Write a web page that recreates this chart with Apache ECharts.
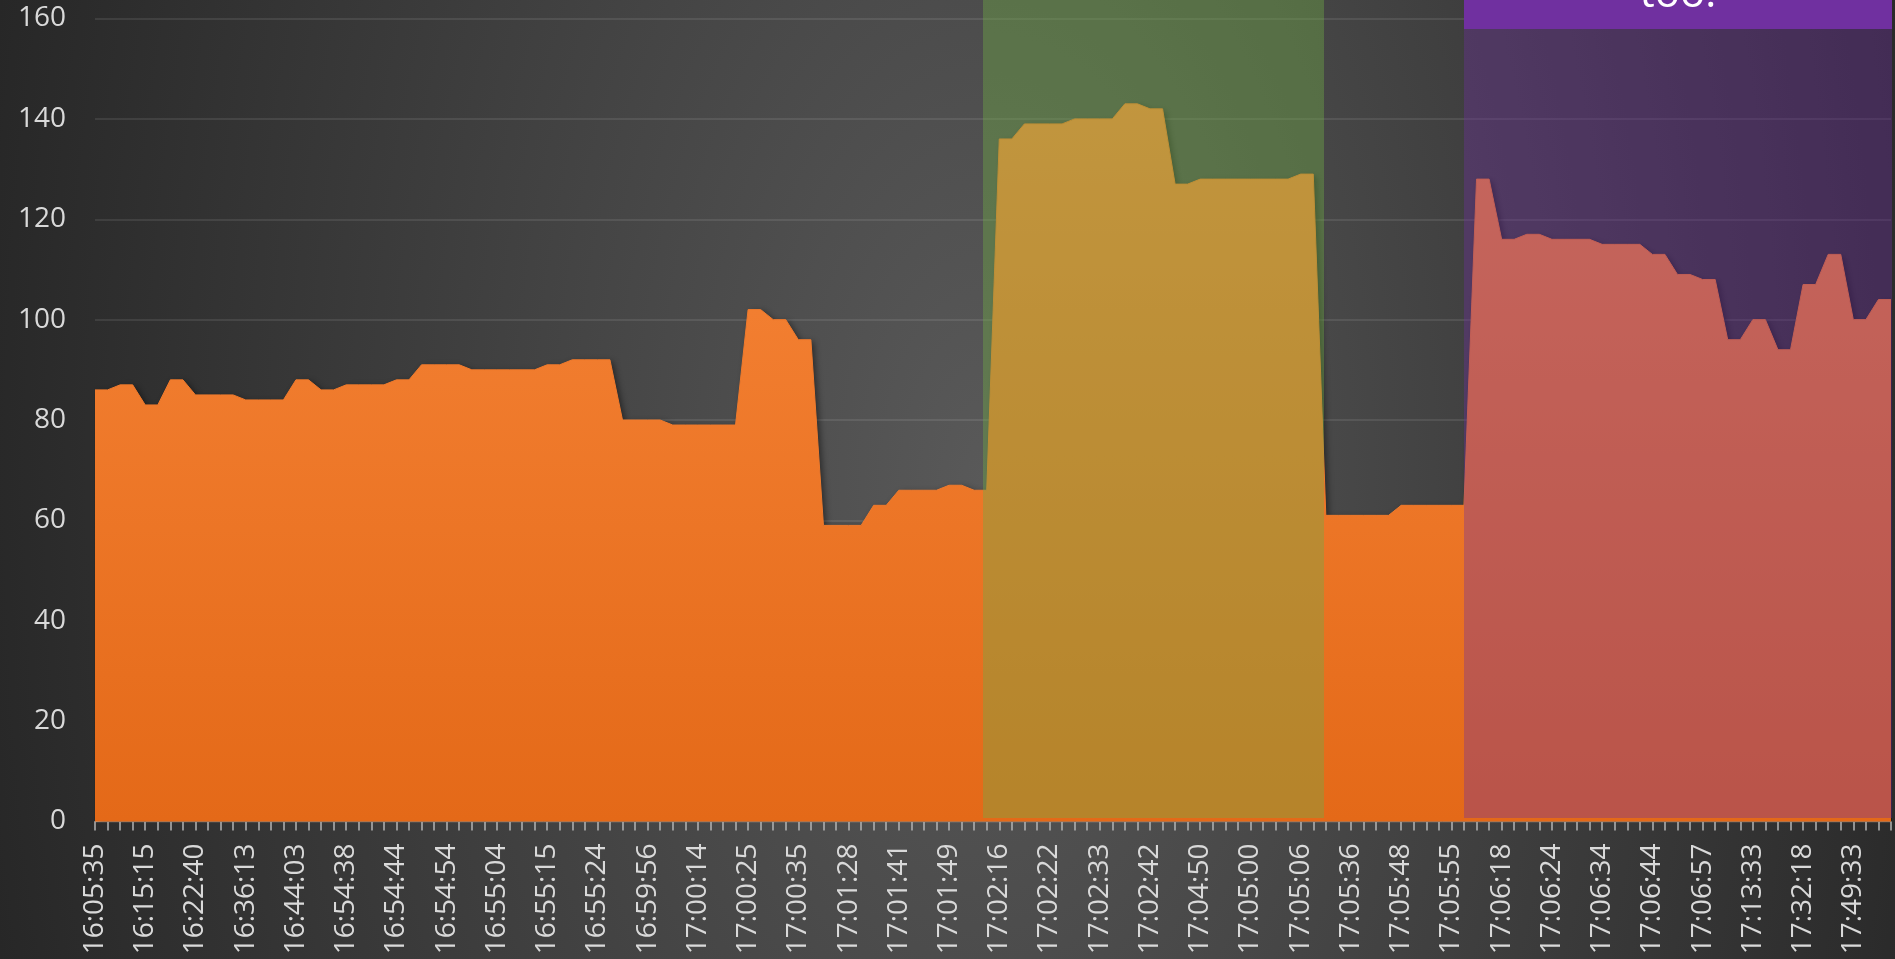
<!DOCTYPE html>
<html>
<head>
<meta charset="utf-8">
<script src="https://cdn.jsdelivr.net/npm/echarts@6/dist/echarts.min.js"></script>
<style>
  html, body { margin: 0; padding: 0; }
  body {
    width: 1895px; height: 959px; overflow: hidden;
    background: radial-gradient(ellipse 1040px 1900px at 985px 480px, #595959 0%, #262626 100%);
  }
  #chart { width: 1895px; height: 959px; }
</style>
</head>
<body>
<div id="chart"></div>
<script>
// tick labels, one every 4th sample
const timeLabels = [
  '16:05:35', '16:15:15', '16:22:40', '16:36:13', '16:44:03', '16:54:38',
  '16:54:44', '16:54:54', '16:55:04', '16:55:15', '16:55:24', '16:59:56',
  '17:00:14', '17:00:25', '17:00:35', '17:01:28', '17:01:41', '17:01:49',
  '17:02:16', '17:02:22', '17:02:33', '17:02:42', '17:04:50', '17:05:00',
  '17:05:06', '17:05:36', '17:05:48', '17:05:55', '17:06:18', '17:06:24',
  '17:06:34', '17:06:44', '17:06:57', '17:13:33', '17:32:18', '17:49:33'
]

// sampled values (144 points)
const values = [
  86, 86, 87, 87, 83, 83, 88, 88, 85, 85, 85, 85, 84, 84, 84, 84, 88, 88, 86, 86,
  87, 87, 87, 87, 88, 88, 91, 91, 91, 91, 90, 90, 90, 90, 90, 90, 91, 91, 92, 92,
  92, 92, 80, 80, 80, 80, 79, 79, 79, 79, 79, 79, 102, 102, 100, 100, 96, 96, 59, 59,
  59, 59, 63, 63, 66, 66, 66, 66, 67, 67, 66, 66, 136, 136, 139, 139, 139, 139, 140, 140,
  140, 140, 143, 143, 142, 142, 127, 127, 128, 128, 128, 128, 128, 128, 128, 128, 129, 129, 61, 61,
  61, 61, 61, 61, 63, 63, 63, 63, 63, 63, 128, 128, 116, 116, 117, 117, 116, 116, 116, 116,
  115, 115, 115, 115, 113, 113, 109, 109, 108, 108, 96, 96, 100, 100, 94, 94, 107, 107, 113, 113,
  100, 100, 104, 104
]

const yTicks = [0, 20, 40, 60, 80, 100, 120, 140, 160]

const categories = values.map((v, i) => (i % 4 === 0 ? timeLabels[i / 4] : ''))

const chart = echarts.init(document.getElementById('chart'), null, { renderer: 'canvas' })

chart.setOption({
  backgroundColor: 'transparent',
  animation: false,
  grid: { left: 95, right: 4, top: 18.5, bottom: 137.5, outerBoundsMode: 'none', containLabel: false },
  xAxis: {
    type: 'category',
    data: categories,
    boundaryGap: false,
    axisLine: { show: true, lineStyle: { color: '#c9b6a4', width: 1 } },
    axisTick: { show: true, interval: 0, length: 9, lineStyle: { color: '#b4b4b4', width: 1.5 } },
    axisLabel: {
      interval: 3,
      rotate: 90,
      margin: 22,
      color: '#d9d9d9',
      fontFamily: 'Open Sans',
      fontSize: 28
    },
    splitLine: { show: false }
  },
  yAxis: {
    type: 'value',
    min: yTicks[0],
    max: yTicks[yTicks.length - 1],
    interval: 20,
    axisLine: { show: false },
    axisTick: { show: false },
    axisLabel: {
      margin: 29,
      color: '#d9d9d9',
      fontFamily: 'Open Sans',
      fontSize: 28
    },
    splitLine: { lineStyle: { color: 'rgba(255,255,255,0.12)', width: 1.5 } }
  },
  series: [{
    type: 'line',
    data: values,
    symbol: 'none',
    silent: true,
    lineStyle: { width: 1, color: '#f07a2c' },
    areaStyle: {
      color: {
        type: 'linear', x: 0, y: 18, x2: 0, y2: 821, global: true,
        colorStops: [{ offset: 0, color: '#fa8a3e' }, { offset: 1, color: '#e46918' }]
      },
      opacity: 1,
      shadowColor: 'rgba(0,0,0,0.45)',
      shadowBlur: 6,
      shadowOffsetX: 3,
      shadowOffsetY: 2
    }
  }],
  graphic: [
    // green highlight band
    {
      type: 'rect', z: 50, silent: true,
      shape: { x: 983, y: 0, width: 341, height: 818 },
      style: { fill: 'rgba(112,173,71,0.40)' }
    },
    // purple highlight band
    {
      type: 'rect', z: 50, silent: true,
      shape: { x: 1464, y: 29, width: 428, height: 789 },
      style: { fill: 'rgba(112,48,160,0.36)' }
    },
    // purple callout box
    {
      type: 'rect', z: 51, silent: true,
      shape: { x: 1464, y: 0, width: 428, height: 29 },
      style: { fill: '#7030a0' }
    },
    {
      type: 'text', z: 52, silent: true,
      x: 1678, y: -5,
      style: {
        text: 'too!',
        fill: '#ffffff',
        font: '42px "Open Sans"',
        align: 'center',
        verticalAlign: 'middle'
      }
    }
  ]
})
</script>
</body>
</html>
